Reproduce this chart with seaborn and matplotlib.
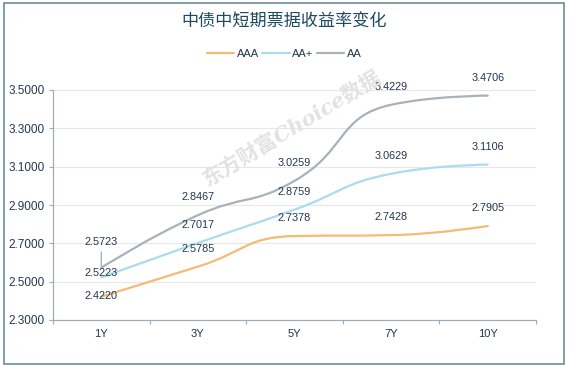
import math
import numpy as np
import pandas as pd
import matplotlib
matplotlib.use("Agg")
import matplotlib.pyplot as plt
import seaborn as sns
from matplotlib.path import Path
from matplotlib.patches import PathPatch, Rectangle
from matplotlib.lines import Line2D

# ---------------- data ----------------
categories = ["1Y", "3Y", "5Y", "7Y", "10Y"]
aaa = [2.4220, 2.5785, 2.7378, 2.7428, 2.7905]
aa_plus = [2.5223, 2.7017, 2.8759, 3.0629, 3.1106]
aa = [2.5723, 2.8467, 3.0259, 3.4229, 3.4706]
series_names = ["AAA", "AA+", "AA"]
y_ticks = [2.3, 2.5, 2.7, 2.9, 3.1, 3.3, 3.5]
title_text = "中债中短期票据收益率变化"
watermark_text = "东方财富Choice数据"

# ---------------- style ----------------
colors = {"AAA": "#f3bb73", "AA+": "#a9dcee", "AA": "#a7b2ba"}
text_color = "#23374d"
axis_color = "#9eaeb8"
grid_color = "#e7e7e7"
# label offsets (pixels above point) -- default 18
label_offsets = {("AA", 0): 25.5, ("AA+", 0): 4, ("AAA", 0): 0.5}

sns.set_theme(style="white")
plt.rcParams["font.family"] = ["Liberation Sans", "Noto Sans CJK SC", "DejaVu Sans"]

W, H = 570, 368
fig = plt.figure(figsize=(W / 100, H / 100), dpi=100)
ax = fig.add_axes([53 / W, (H - 320) / H, 483 / W, 230 / H])

df = pd.DataFrame({
    "term": categories * 3,
    "yield": aaa + aa_plus + aa,
    "grade": [n for n in series_names for _ in categories],
})
sns.lineplot(data=df, x="term", y="yield", hue="grade", palette=colors,
             legend=False, ax=ax, linewidth=0, sort=False)
for ln in ax.lines:
    ln.set_visible(False)

ax.set_xlim(-0.5, len(categories) - 0.5)
ax.set_ylim(2.3, 3.5)


def echarts_smooth(pts, smooth=0.5):
    verts = [tuple(pts[0])]
    codes = [Path.MOVETO]
    cp0 = tuple(pts[0])
    n = len(pts)
    for k in range(1, n):
        x, y = pts[k]
        px, py = pts[k - 1]
        if k + 1 >= n:
            cp1 = (x, y)
            nxt = None
        else:
            nx, ny = pts[k + 1]
            vx, vy = nx - px, ny - py
            l0 = math.hypot(x - px, y - py)
            l1 = math.hypot(nx - x, ny - y)
            r = l1 / (l0 + l1)
            ncx = x + vx * smooth * r
            ncy = y + vy * smooth * r
            ncx = max(min(ncx, max(nx, x)), min(nx, x))
            ncy = max(min(ncy, max(ny, y)), min(ny, y))
            vx, vy = ncx - x, ncy - y
            c1x = x - vx * l0 / l1
            c1y = y - vy * l0 / l1
            c1x = max(min(c1x, max(px, x)), min(px, x))
            c1y = max(min(c1y, max(py, y)), min(py, y))
            vx, vy = x - c1x, y - c1y
            ncx = x + vx * l1 / l0
            ncy = y + vy * l1 / l0
            cp1 = (c1x, c1y)
            nxt = (ncx, ncy)
        verts += [cp0, cp1, (x, y)]
        codes += [Path.CURVE4] * 3
        cp0 = nxt
    return verts, codes


series_values = {"AAA": aaa, "AA+": aa_plus, "AA": aa}
xpos = np.arange(len(categories))
for name in series_names:
    vals = series_values[name]
    disp = ax.transData.transform(np.column_stack([xpos, vals]))
    verts, codes = echarts_smooth(disp)
    data_verts = ax.transData.inverted().transform(np.array(verts))
    patch = PathPatch(Path(data_verts, codes), facecolor="none",
                      edgecolor=colors[name], lw=1.6, zorder=3,
                      capstyle="round", joinstyle="round")
    ax.add_patch(patch)

# data labels
for name in series_names:
    vals = series_values[name]
    for i, v in enumerate(vals):
        off = label_offsets.get((name, i), 18)
        kw = {}
        if (name, i) == ("AA", 0):
            kw["arrowprops"] = dict(arrowstyle="-", color=colors[name], lw=1.0,
                                    shrinkA=1, shrinkB=1)
        ax.annotate(f"{v:.4f}", xy=(i, v), xytext=(0, off),
                    textcoords="offset pixels", ha="center", va="center",
                    fontsize=7.8, color=text_color, zorder=5, **kw)

# axes styling
ax.set_xlabel("")
ax.set_ylabel("")
ax.set_yticks(y_ticks)
ax.set_yticklabels([f"{t:.4f}" for t in y_ticks])
ax.set_xticks(xpos)
ax.set_xticklabels(categories)
ax.set_xticks(np.arange(-0.5, len(categories)), minor=True)
ax.tick_params(axis="x", which="major", length=0, pad=6.3, labelsize=8,
               labelcolor=text_color)
ax.tick_params(axis="x", which="minor", length=3, width=0.8, color=axis_color,
               direction="out", bottom=True)
ax.tick_params(axis="y", which="major", length=3, width=0.8, color=axis_color,
               direction="out", pad=3, labelsize=8.5, labelcolor=text_color, left=True)
for t in y_ticks[1:]:
    ax.axhline(t, color=grid_color, lw=0.8, zorder=0)
for s in ["top", "right"]:
    ax.spines[s].set_visible(False)
for s in ["left", "bottom"]:
    ax.spines[s].set_color(axis_color)
    ax.spines[s].set_linewidth(0.9)

# watermark
fig.text(292 / W, 1 - 128 / H, watermark_text, rotation=31, ha="center", va="center",
         fontsize=15, fontstyle="italic", fontweight="bold", color="#e2e2e2",
         family=["DejaVu Serif", "Noto Sans CJK SC"], zorder=0)

# title
fig.text(284 / W, 1 - 22 / H, title_text, ha="center", va="center", fontsize=12.3,
         color="#1c4a5e", family=["Noto Sans CJK SC", "DejaVu Sans"])

# legend
handles = [Line2D([0], [0], color=colors[n], lw=1.6) for n in series_names]
fig.legend(handles, series_names, ncol=3, loc="center",
           bbox_to_anchor=(284 / W, 1 - 54 / H), frameon=False, fontsize=8,
           handlelength=2.5, handletextpad=0.2, columnspacing=0.3,
           labelcolor=text_color)

# outer border
fig.patches.append(Rectangle((4 / W, (H - 364) / H), 560 / W, 361 / H,
                             transform=fig.transFigure, fill=False,
                             edgecolor="#5e858f", lw=1.1, zorder=10))

fig.savefig("out.png", dpi=100)
